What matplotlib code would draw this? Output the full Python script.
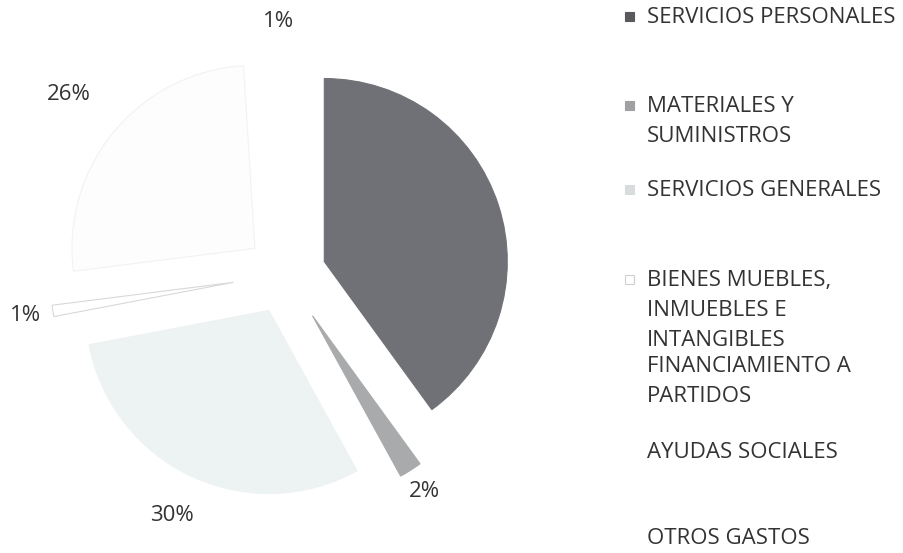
import numpy as np
import matplotlib.pyplot as plt
from matplotlib.patches import Rectangle

# data
categories = [
    "SERVICIOS PERSONALES",
    "MATERIALES Y SUMINISTROS",
    "SERVICIOS GENERALES",
    "BIENES MUEBLES, INMUEBLES E INTANGIBLES",
    "FINANCIAMIENTO A PARTIDOS",
    "AYUDAS SOCIALES",
    "OTROS GASTOS",
]
shares = [40, 2, 30, 1, 26, 1, 0]

# legend text as it wraps in the picture
legend_lines = [
    ["SERVICIOS PERSONALES"],
    ["MATERIALES Y", "SUMINISTROS"],
    ["SERVICIOS GENERALES"],
    ["BIENES MUEBLES,", "INMUEBLES E", "INTANGIBLES"],
    ["FINANCIAMIENTO A", "PARTIDOS"],
    ["AYUDAS SOCIALES"],
    ["OTROS GASTOS"],
]

colors = ["#707176", "#a8aaac", "#edf3f2", "#ffffff", "#fdfdfd", "#ffffff", "#ffffff"]
edges = ["#707176", "#a8aaac", "#edf3f2", "#d8d8d8", "#f2f2f2", "#ffffff", "#ffffff"]
explode_frac = [0.22, 0.27, 0.22, 0.29, 0.22, 0.22, 0.0]
label_dist = [0, 1.14, 1.24, 1.15, 1.32, 1.16, 0]   # label distance / radius
marker_colors = ["#5a5a5e", "#a0a0a2", "#d8dcdc", "#ffffff", "#ffffff", "#ffffff", "#ffffff"]
marker_edges = ["#5a5a5e", "#a0a0a2", "#d8dcdc", "#cfcfcf", "#ffffff", "#ffffff", "#ffffff"]
entry_y = [17, 106, 190, 280, 367, 453, 538]   # pixel rows from top

W, H = 904, 553
R = 183
FS = 16
text_color = "#333333"
plt.rcParams['font.family'] = ['Open Sans', 'DejaVu Sans']

fig = plt.figure(figsize=(W / 100, H / 100), dpi=100)
ax = fig.add_axes([0, 0, 1, 1])


def pct_label(p):
    if p > 35 or p < 0.5:
        return ''
    return f'{p:.0f}%'


# matplotlib's explode is in data units, so scale by the radius
wedges, texts, autotexts = ax.pie(
    shares, colors=colors, explode=[e * R for e in explode_frac],
    startangle=90, counterclock=False,
    center=(286, H - 274), radius=R, autopct=pct_label,
    wedgeprops=dict(linewidth=0.8), textprops=dict(fontsize=FS, color=text_color),
    frame=True,
)
for w, ec, t, d in zip(wedges, edges, autotexts, label_dist):
    w.set_edgecolor(ec)
    mid = np.deg2rad((w.theta1 + w.theta2) / 2)
    cx, cy = w.center
    t.set_position((cx + d * R * np.cos(mid), cy + d * R * np.sin(mid)))

ax.set_xlim(0, W)
ax.set_ylim(0, H)
ax.set_aspect('equal')
ax.axis('off')

# legend on the right
for lines, y, fc, ec in zip(legend_lines, entry_y, marker_colors, marker_edges):
    ax.add_patch(Rectangle((625, H - y - 4), 9, 9, facecolor=fc, edgecolor=ec, linewidth=0.8))
    for i, line in enumerate(lines):
        ax.text(647, H - (y + 30 * i), line, fontsize=FS, color=text_color,
                ha='left', va='center')

fig.savefig('out.png', dpi=100, facecolor='white')
